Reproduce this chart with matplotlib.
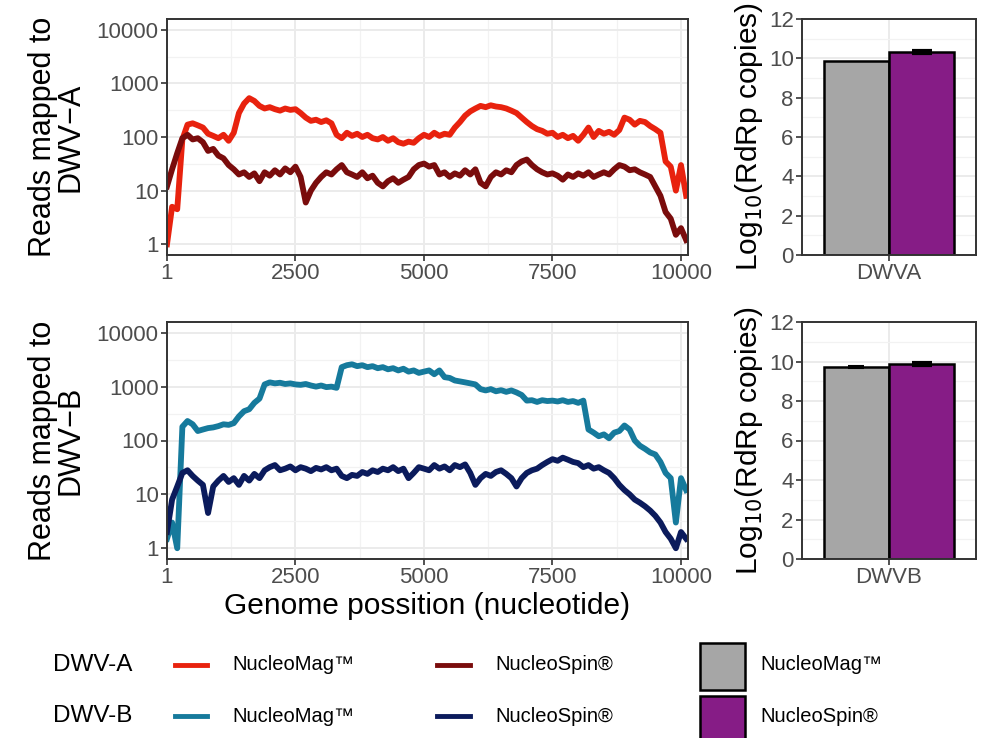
import numpy as np
import matplotlib
matplotlib.use("Agg")
import matplotlib.pyplot as plt
from matplotlib.lines import Line2D
from matplotlib.patches import Rectangle

plt.rcParams["font.family"] = ["Liberation Sans", "DejaVu Sans"]

# genome positions sampled every 100 nt
pos = np.arange(0, 10200, 100).astype(float)
pos[0] = 1

dwva_mag = [1, 5, 4.5, 90, 170, 180, 165, 150, 115, 105,
            95, 110, 85, 120, 280, 420, 530, 470, 380, 340,
            360, 330, 310, 340, 320, 330, 280, 230, 200, 210,
            190, 205, 180, 110, 95, 120, 105, 115, 100, 110,
            95, 90, 100, 85, 95, 80, 75, 82, 78, 95,
            110, 100, 120, 105, 115, 110, 150, 190, 250, 300,
            340, 380, 360, 390, 370, 360, 340, 310, 280, 230,
            190, 160, 140, 130, 115, 120, 100, 110, 95, 105,
            85, 110, 150, 100, 130, 115, 125, 110, 135, 230,
            210, 170, 200, 190, 160, 140, 120, 35, 28, 10,
            30, 8]
dwva_spin = [12, 25, 50, 95, 110, 90, 95, 80, 55, 60,
             45, 40, 30, 25, 20, 22, 18, 21, 15, 22,
             19, 24, 20, 26, 22, 28, 18, 6, 10, 14,
             18, 22, 20, 25, 30, 22, 20, 18, 22, 17,
             19, 14, 12, 15, 17, 14, 16, 18, 25, 30,
             32, 28, 30, 20, 22, 18, 21, 19, 24, 20,
             25, 14, 12, 18, 22, 20, 24, 22, 30, 35,
             38, 30, 25, 22, 20, 21, 19, 16, 20, 18,
             21, 19, 22, 18, 20, 22, 20, 25, 30, 28,
             24, 25, 22, 20, 18, 12, 8, 4, 3, 1.5,
             2, 1.2]
dwvb_mag = [1.5, 3, 1, 180, 230, 200, 150, 160, 170, 175,
            185, 200, 195, 210, 280, 350, 380, 500, 600, 1100,
            1200, 1150, 1180, 1120, 1150, 1100, 1080, 1120, 1050, 1000,
            1050, 980, 1000, 950, 2300, 2500, 2600, 2400, 2500, 2300,
            2400, 2200, 2300, 2100, 2200, 2000, 2150, 1900, 2000, 1800,
            1900, 2000, 1700, 2000, 1500, 1450, 1300, 1250, 1200, 1150,
            1100, 900, 850, 900, 820, 860, 800, 850, 780, 700,
            550, 560, 520, 560, 540, 550, 530, 560, 520, 540,
            500, 550, 160, 140, 120, 130, 110, 140, 150, 190,
            160, 100, 80, 70, 60, 55, 40, 25, 20, 3,
            20, 12]
dwvb_spin = [2, 8, 14, 25, 28, 22, 18, 15, 4.5, 14,
             18, 22, 17, 20, 15, 22, 18, 24, 20, 28,
             32, 35, 28, 30, 33, 28, 32, 30, 27, 31,
             29, 32, 28, 30, 22, 20, 23, 22, 26, 24,
             28, 26, 30, 28, 32, 27, 30, 20, 25, 32,
             30, 28, 35, 30, 33, 28, 35, 32, 36, 25,
             15, 20, 24, 22, 26, 28, 24, 20, 14, 20,
             25, 28, 30, 35, 40, 45, 42, 48, 44, 40,
             38, 32, 35, 30, 32, 28, 25, 20, 15, 12,
             10, 8, 7, 6, 5, 4, 3, 2, 1.5, 1,
             2, 1.5]

# qPCR bars
bar_kits = ["NucleoMag™", "NucleoSpin®"]
dwva_log = [9.85, 10.3]
dwva_err = [0.0, 0.05]
dwvb_log = [9.72, 9.85]
dwvb_err = [0.03, 0.05]

col_a = ["#E8220E", "#7A0C0C"]
col_b = ["#167A9C", "#0B1B5C"]
bar_cols = ["#A6A6A6", "#861C86"]

W, H = 982, 738
fig = plt.figure(figsize=(W / 100, H / 100), dpi=100)


def box(l, t, r, b):
    return [l / W, 1 - b / H, (r - l) / W, (b - t) / H]


def style(ax):
    for s in ax.spines.values():
        s.set_color("#333333")
        s.set_linewidth(1.4)
    ax.tick_params(which="major", direction="out", length=4, width=1.2,
                   color="#333333", labelcolor="#4D4D4D", labelsize=16, pad=2)
    ax.tick_params(which="minor", length=0)
    ax.grid(which="major", color="#EBEBEB", linewidth=1.4)
    ax.grid(which="minor", color="#F2F2F2", linewidth=0.9)
    ax.set_axisbelow(True)


def cov_panel(rect, series, cols, ylabel, xlabel=None):
    ax = fig.add_axes(rect)
    for y, c in zip(series, cols):
        ax.plot(pos, y, color=c, linewidth=4.2)
    ax.set_yscale("log")
    ax.set_ylim(10 ** -0.2, 10 ** 4.2)
    ax.set_xlim(1, 10136)
    ax.set_yticks([1, 10, 100, 1000, 10000])
    ax.set_yticklabels(["1", "10", "100", "1000", "10000"])
    ax.set_yticks([10 ** 0.5, 10 ** 1.5, 10 ** 2.5, 10 ** 3.5], minor=True)
    ax.set_xticks([1, 2500, 5000, 7500, 10000])
    ax.set_xticks([1250, 3750, 6250, 8750], minor=True)
    ax.set_yticklabels([], minor=True)
    style(ax)
    ax.set_ylabel(ylabel, fontsize=22, labelpad=8, linespacing=0.9)
    if xlabel:
        ax.set_xlabel(xlabel, fontsize=21.5, labelpad=3)
    return ax


def bar_panel(rect, vals, errs, cat):
    ax = fig.add_axes(rect)
    xs = [0.775, 1.225]
    ax.bar(xs, vals, width=0.45, color=bar_cols, edgecolor="black", linewidth=1.8, zorder=2)
    ax.errorbar(xs[1:], vals[1:], yerr=errs[1:], fmt="none", ecolor="black", elinewidth=1.5,
                capsize=7, capthick=3, zorder=3)
    if errs[0] > 0:
        ax.errorbar(xs[:1], vals[:1], yerr=errs[:1], fmt="none", ecolor="black",
                    elinewidth=1.2, capsize=6, capthick=1.5, zorder=3)
    ax.set_xlim(0.4, 1.6)
    ax.set_ylim(0, 12)
    ax.set_yticks(range(0, 13, 2))
    ax.set_yticks(range(1, 13, 2), minor=True)
    ax.set_xticks([1])
    ax.set_xticklabels([cat])
    style(ax)
    ax.set_ylabel("Log$_{10}$(RdRp copies)", fontsize=21.5, labelpad=3)
    return ax


cov_panel(box(167, 19, 688, 255), [dwva_mag, dwva_spin], col_a, "Reads mapped to\nDWV\u2212A")
cov_panel(box(167, 322, 688, 559), [dwvb_mag, dwvb_spin], col_b, "Reads mapped to\nDWV\u2212B",
          xlabel="Genome possition (nucleotide)")
bar_panel(box(802, 19, 976, 255), dwva_log, dwva_err, "DWVA")
bar_panel(box(802, 322, 976, 559), dwvb_log, dwvb_err, "DWVB")


# legend drawn by hand in pixel space
def fx(x):
    return x / W


def fy(y):
    return 1 - y / H


for row_y, title, cols in [(665, "DWV-A", col_a), (716, "DWV-B", col_b)]:
    fig.text(fx(53), fy(row_y), title, fontsize=17.5, va="center", ha="left")
    for (x0, x1, xt), c, lab in zip([(175, 207, 232), (437, 470, 495)], cols, bar_kits):
        fig.add_artist(Line2D([fx(x0), fx(x1)], [fy(row_y), fy(row_y)],
                              transform=fig.transFigure, color=c, linewidth=3.5))
        fig.text(fx(xt), fy(row_y), lab, fontsize=14.5, va="center", ha="left")

for (top, bot, row_y), c, lab in zip([(643, 690, 665), (696, 742, 716)], bar_cols, bar_kits):
    fig.add_artist(Rectangle((fx(700), fy(bot)), fx(745) - fx(700), fy(top) - fy(bot),
                             transform=fig.transFigure, facecolor=c, edgecolor="black",
                             linewidth=1.8))
    fig.text(fx(760), fy(row_y), lab, fontsize=14.5, va="center", ha="left")

fig.savefig("out.png", dpi=100)
